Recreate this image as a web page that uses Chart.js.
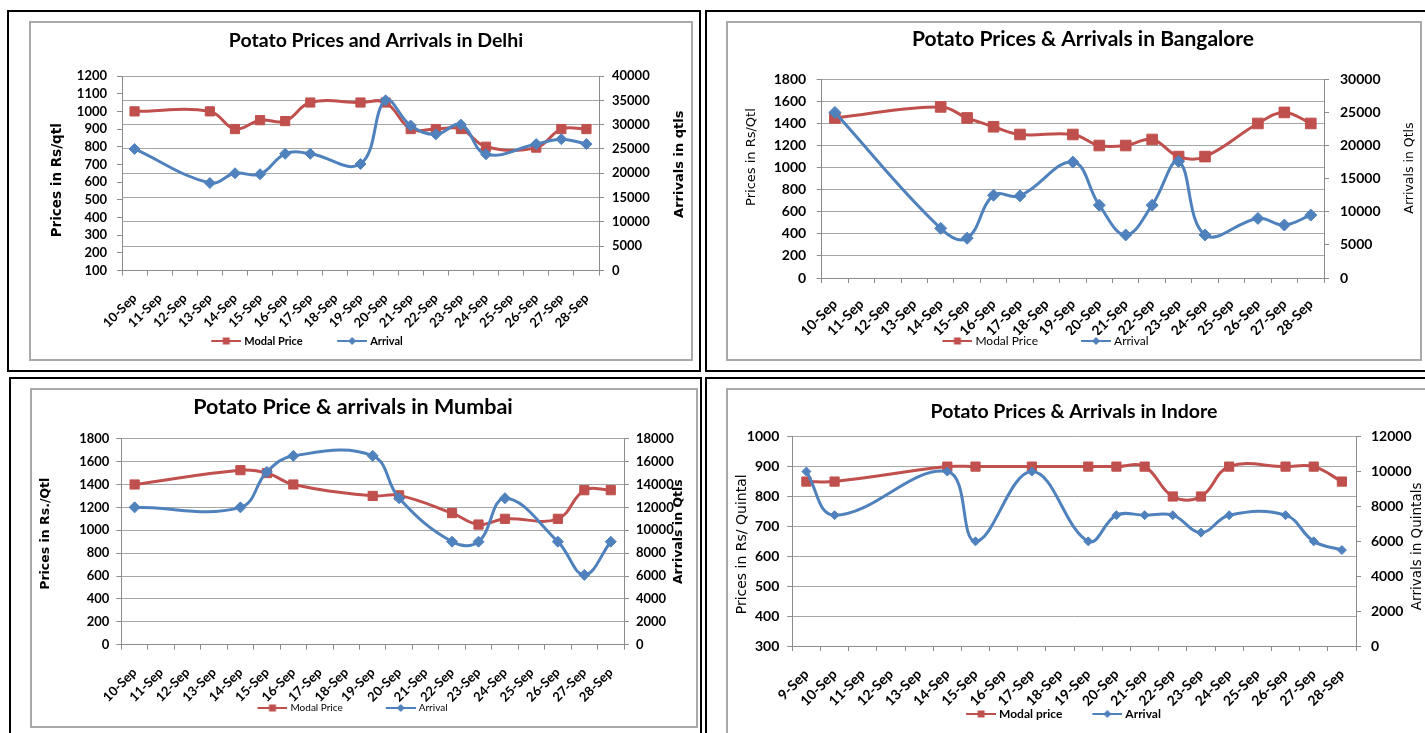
<!DOCTYPE html>
<html>
<head>
<meta charset="utf-8">
<title>Potato Prices and Arrivals</title>
<script src="https://cdn.jsdelivr.net/npm/chart.js@4.4.1/dist/chart.umd.min.js"></script>
<style>
html, body { margin: 0; padding: 0; background: #fff; overflow: hidden; }
.box { position: absolute; border: 2px solid #000; box-sizing: border-box; }
.frame { position: absolute; border: 2px solid #a9a9a9; }
.frame canvas { display: block; }
</style>
</head>
<body>
<div class="box" style="left:7px;top:10px;width:694px;height:362px"></div>
<div class="box" style="left:705px;top:10px;width:800px;height:362px"></div>
<div class="box" style="left:9px;top:377px;width:693px;height:400px"></div>
<div class="box" style="left:705px;top:377px;width:800px;height:400px"></div>

<div class="frame" style="left:29px;top:21px"><canvas id="delhi" width="660" height="336"></canvas></div>
<div class="frame" style="left:726px;top:21px"><canvas id="bangalore" width="692" height="336"></canvas></div>
<div class="frame" style="left:30px;top:388px"><canvas id="mumbai" width="664" height="336"></canvas></div>
<div class="frame" style="left:726px;top:388px"><canvas id="indore" width="697" height="343"></canvas></div>

<script>
// categories
const sepDays = ['10-Sep', '11-Sep', '12-Sep', '13-Sep', '14-Sep', '15-Sep', '16-Sep', '17-Sep', '18-Sep', '19-Sep',
                 '20-Sep', '21-Sep', '22-Sep', '23-Sep', '24-Sep', '25-Sep', '26-Sep', '27-Sep', '28-Sep'];
const indoreDays = ['9-Sep', '10-Sep', '11-Sep', '12-Sep', '13-Sep', '14-Sep', '15-Sep', '16-Sep', '17-Sep', '18-Sep', '19-Sep',
                    '20-Sep', '21-Sep', '22-Sep', '23-Sep', '24-Sep', '25-Sep', '26-Sep', '27-Sep', '28-Sep'];

// Delhi
const delhiPrice   = [1000, null, null, 1000, 900, 950, 945, 1050, null, 1050, 1050, 900, 900, 900, 800, null, 795, 900, 900];
const delhiArrival = [25000, null, null, 18000, 20000, 19800, 24000, 24000, null, 21900, 35000, 29800, 28000, 30000, 23900, null, 26000, 27000, 26000];
const delhiPriceRange   = [100, 1200, 100];
const delhiArrivalRange = [0, 40000, 5000];

// Bangalore
const blrPrice   = [1450, null, null, null, 1550, 1450, 1370, 1300, null, 1300, 1200, 1200, 1255, 1100, 1100, null, 1400, 1500, 1400];
const blrArrival = [25000, null, null, null, 7500, 6000, 12500, 12400, null, 17500, 11000, 6500, 11000, 17600, 6500, null, 9000, 8000, 9500];
const blrPriceRange   = [0, 1800, 200];
const blrArrivalRange = [0, 30000, 5000];

// Mumbai
const mumPrice   = [1400, null, null, null, 1525, 1500, 1400, null, null, 1300, 1305, null, 1150, 1050, 1100, null, 1100, 1350, 1350];
const mumArrival = [12000, null, null, null, 12000, 15100, 16500, null, null, 16500, 12800, null, 9000, 9000, 12800, null, 9000, 6100, 9000];
const mumPriceRange   = [0, 1800, 200];
const mumArrivalRange = [0, 18000, 2000];

// Indore
const indPrice   = [850, 850, null, null, null, 900, 900, null, 900, null, 900, 900, 900, 800, 800, 900, null, 900, 900, 850];
const indArrival = [10000, 7500, null, null, null, 10000, 6000, null, 10000, null, 6000, 7500, 7500, 7500, 6500, 7500, null, 7500, 6000, 5500];
const indPriceRange   = [300, 1000, 100];
const indArrivalRange = [0, 12000, 2000];

const RED = '#C0504D';
const BLUE = '#4F81BD';
const AXIS = '#8c8c8c';
const GRID = '#a6a6a6';

// line-with-marker swatch for the legend, like Excel's; the visible part sits at the right end
function legendIcon(color, style, width) {
  const c = document.createElement('canvas');
  c.width = width; c.height = 10;
  const g = c.getContext('2d');
  const x0 = width - 30, mid = width - 15;
  g.strokeStyle = color; g.fillStyle = color; g.lineWidth = 2;
  g.beginPath(); g.moveTo(x0, 5); g.lineTo(width, 5); g.stroke();
  if (style === 'rect') {
    g.fillRect(mid - 3.5, 1.5, 7, 7);
  } else {
    g.beginPath(); g.moveTo(mid, 1); g.lineTo(mid + 4, 5); g.lineTo(mid, 9); g.lineTo(mid - 4, 5); g.closePath(); g.fill();
  }
  return c;
}

function build(id, d) {
  const tickFont = { family: 'Lato', size: d.tick, weight: 'bold' };
  const yScale = (range, width, pad, grid, position) => ({
    position: position,
    min: range[0], max: range[1],
    afterFit: s => { s.width = width; },
    grid: { drawOnChartArea: grid, color: GRID, tickColor: AXIS, tickLength: 5 },
    border: { color: AXIS },
    ticks: { stepSize: range[2], autoSkip: false, padding: pad, color: '#000', font: tickFont, format: { useGrouping: false } }
  });

  // legend spacing: wide transparent swatch instead of a big padding (padding also grows the box height)
  const fs = d.legendFont.size, lp = 0;
  const bw = Math.round(d.gap - lp - fs / 2 + 33);
  const iconW = bw + fs - 6;
  const lead = bw + fs / 2 - 33;
  const legendDx = d.legendDx - lead / 2;
  const legendH = fs + lp + 10;
  const xH = d.bottomGap - legendH - d.pb;

  // shift title / legend sideways (Excel didn't centre them on the frame)
  const nudge = {
    id: 'nudge',
    afterLayout(chart) {
      if (chart.titleBlock) { chart.titleBlock.left += d.titleDx; chart.titleBlock.right += d.titleDx; }
      if (chart.legend) { chart.legend.left += legendDx; chart.legend.right += legendDx; }
    }
  };
  // vertical axis titles, both reading bottom-to-top
  const sideTitles = {
    id: 'sideTitles',
    afterDraw(chart) {
      const ctx = chart.ctx, a = chart.chartArea;
      d.axisTitles.forEach(t => {
        const s = chart.scales[t.axis];
        const x = t.axis === 'y' ? s.left + t.inset : s.right - t.inset;
        ctx.save();
        ctx.translate(x, (a.top + a.bottom) / 2 + t.dy);
        ctx.rotate(-Math.PI / 2);
        ctx.font = t.font;
        ctx.fillStyle = '#000';
        ctx.textAlign = 'center';
        ctx.textBaseline = 'middle';
        ctx.fillText(t.text, 0, 0);
        ctx.restore();
      });
    }
  };

  new Chart(document.getElementById(id), {
    type: 'line',
    data: {
      labels: d.days,
      datasets: [{
        label: d.priceLabel, data: d.price, yAxisID: 'y', order: 1,
        borderColor: RED, backgroundColor: RED, borderWidth: 3, tension: 0.4, spanGaps: true,
        pointStyle: 'rect', pointRadius: d.sq, pointBorderWidth: 1
      }, {
        label: 'Arrival', data: d.arrival, yAxisID: 'y1', order: 0,
        borderColor: BLUE, backgroundColor: BLUE, borderWidth: 3, tension: 0.4, spanGaps: true,
        pointStyle: 'rectRot', pointRadius: d.dm, pointBorderWidth: 1
      }]
    },
    options: {
      responsive: false,
      animation: false,
      layout: { padding: { left: 0, right: 0, top: 0, bottom: d.pb } },
      scales: {
        x: {
          offset: true,
          afterFit: s => { s.height = xH; },
          grid: { offset: true, drawOnChartArea: false, color: AXIS, tickLength: 5 },
          border: { color: AXIS },
          ticks: { autoSkip: false, minRotation: 45, maxRotation: 45, padding: d.xPad, color: '#000', font: tickFont }
        },
        y: yScale(d.priceRange, d.yW, d.padL, !d.rightGrid, 'left'),
        y1: yScale(d.arrivalRange, d.y1W, d.padR, d.rightGrid, 'right')
      },
      plugins: {
        title: {
          display: true, text: d.title, color: '#000',
          font: { family: 'Lato', size: d.titleSize, weight: 'bold', lineHeight: 1.2 },
          padding: { top: d.tTop, bottom: d.tBot }
        },
        legend: {
          position: 'bottom',
          labels: {
            usePointStyle: true, pointStyleWidth: bw, padding: lp, color: '#000', font: d.legendFont,
            generateLabels: chart => chart.data.datasets.map((ds, i) => ({
              text: ds.label, datasetIndex: i, hidden: false, lineWidth: 0,
              fillStyle: ds.borderColor, strokeStyle: ds.borderColor, fontColor: '#000',
              pointStyle: legendIcon(ds.borderColor, ds.pointStyle, iconW)
            }))
          }
        },
        tooltip: { enabled: false }
      }
    },
    plugins: [nudge, sideTitles]
  });
}

build('delhi', {
  days: sepDays, price: delhiPrice, arrival: delhiArrival,
  priceRange: delhiPriceRange, arrivalRange: delhiArrivalRange,
  title: 'Potato Prices and Arrivals in Delhi', priceLabel: 'Modal Price',
  titleSize: 19.5, tTop: 6.3, tBot: 23.3, titleDx: 15,
  tick: 13, yW: 91, y1W: 92, padL: 10, padR: 8, rightGrid: true, xPad: 15,
  bottomGap: 88.5, pb: 2.5, gap: 34, legendDx: -54, legendFont: { family: 'Lato', size: 11, weight: 'bold' },
  sq: 6.5, dm: 5.5,
  axisTitles: [
    { axis: 'y', text: 'Prices in Rs/qtl', font: 'bold 13.5px "DejaVu Sans"', inset: 26, dy: 7 },
    { axis: 'y1', text: 'Arrivals in qtls', font: 'bold 13px "DejaVu Sans"', inset: 11, dy: -9 }
  ]
});

build('bangalore', {
  days: sepDays, price: blrPrice, arrival: blrArrival,
  priceRange: blrPriceRange, arrivalRange: blrArrivalRange,
  title: 'Potato Prices & Arrivals in Bangalore', priceLabel: 'Modal Price',
  titleSize: 21, tTop: 3.9, tBot: 27.2, titleDx: 9,
  tick: 14, yW: 93.7, y1W: 96, padL: 10.5, padR: 11, rightGrid: false, xPad: 13,
  bottomGap: 81, pb: 2, gap: 43, legendDx: -28.5, legendFont: { family: 'Lato', size: 12 },
  sq: 7.5, dm: 6,
  axisTitles: [
    { axis: 'y', text: 'Prices in Rs/Qtl', font: '13px "DejaVu Sans"', inset: 24, dy: -21.6 },
    { axis: 'y1', text: 'Arrivals in Qtls', font: '12.5px "DejaVu Sans"', inset: 10, dy: -10.6 }
  ]
});

build('mumbai', {
  days: sepDays, price: mumPrice, arrival: mumArrival,
  priceRange: mumPriceRange, arrivalRange: mumArrivalRange,
  title: 'Potato Price & arrivals in Mumbai', priceLabel: 'Modal Price',
  titleSize: 21.5, tTop: 4.1, tBot: 18.8, titleDx: -11,
  tick: 13, yW: 89.4, y1W: 72, padL: 7, padR: 7, rightGrid: false, xPad: 15,
  bottomGap: 81.3, pb: 3, gap: 43, legendDx: -11.5, legendFont: { family: 'Lato', size: 10 },
  sq: 6.5, dm: 5.5,
  axisTitles: [
    { axis: 'y', text: 'Prices in Rs./Qtl', font: 'bold 12.5px "DejaVu Sans"', inset: 14, dy: -8 },
    { axis: 'y1', text: 'Arrivals in Qtls', font: 'bold 12.5px "DejaVu Sans"', inset: 17, dy: -10 }
  ]
});

build('indore', {
  days: indoreDays, price: indPrice, arrival: indArrival,
  priceRange: indPriceRange, arrivalRange: indArrivalRange,
  title: 'Potato Prices & Arrivals in Indore', priceLabel: 'Modal price',
  titleSize: 19.5, tTop: 9.8, tBot: 13.5, titleDx: -2.5,
  tick: 14, yW: 64.3, y1W: 69, padL: 8, padR: 10, rightGrid: false, xPad: 15,
  bottomGap: 87, pb: 3, gap: 30, legendDx: -13, legendFont: { family: 'Lato', size: 12, weight: 'bold' },
  sq: 6.5, dm: 4.5,
  axisTitles: [
    { axis: 'y', text: 'Prices in Rs/ Quintal', font: '14px "DejaVu Sans"', inset: 14, dy: 3 },
    { axis: 'y1', text: 'Arrivals in Quintals', font: '13.5px "DejaVu Sans"', inset: 8, dy: 5 }
  ]
});
</script>
</body>
</html>
